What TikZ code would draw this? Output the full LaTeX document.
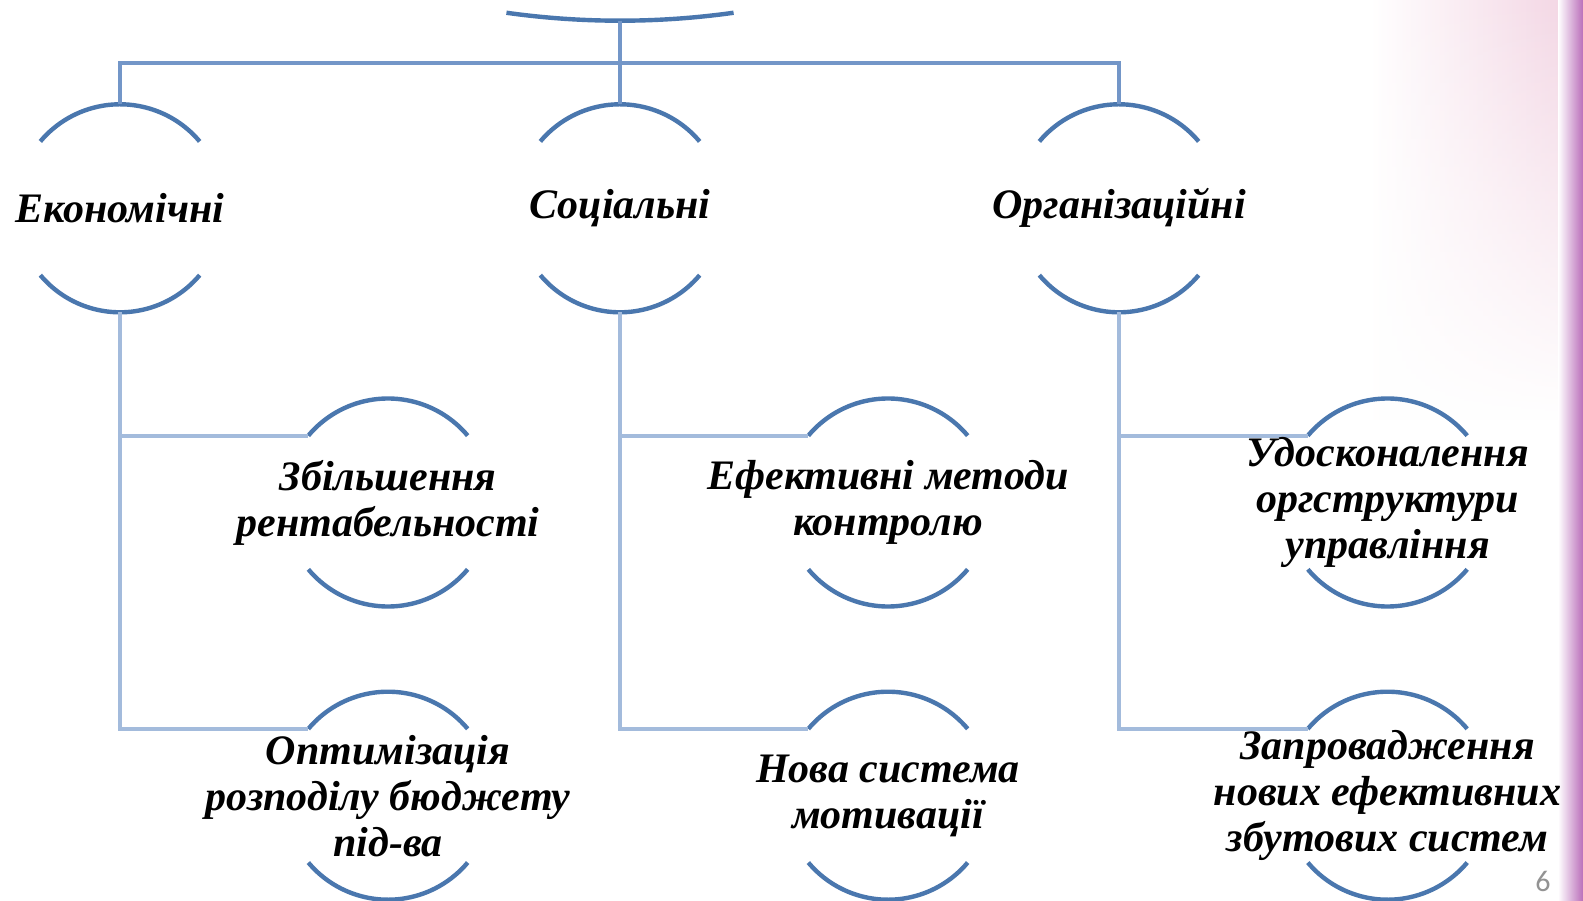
\documentclass[tikz,border=0pt]{standalone}
\usepackage{fontspec}
\setmainfont{Liberation Serif}
\newfontfamily\numfont{Carlito}
\usepackage{tikz}
\usetikzlibrary{calc, fadings}
\definecolor{arcBlue}{HTML}{4A77AE}
\definecolor{linkBlue}{HTML}{7396C8}
\definecolor{subBlue}{HTML}{A3BBDC}
\definecolor{stripPurple}{HTML}{BA6EBA}
\definecolor{washPink}{HTML}{F3D6E4}
\tikzfading[name=washfade, top color=transparent!0, bottom color=transparent!100]

\begin{document}
\begin{tikzpicture}[x=0.5pt, y=0.5pt,
    ring/.style={circle, minimum size=104pt, inner sep=0pt, outer sep=0pt},
    lbl/.style={align=center, font=\fontsize{21}{23}\selectfont\bfseries\itshape},
    arcline/.style={arcBlue, line width=2.2pt},
    link/.style={linkBlue, line width=2pt},
    sublink/.style={subBlue, line width=2pt}]
  \useasboundingbox (0,0) rectangle (1583,900);
  % background of the slide
  \fill[white] (0,0) rectangle (1583,900);
  \shade[left color=white, right color=washPink, path fading=washfade] (1370,480) rectangle (1566,900);
  \shade[left color=white, right color=stripPurple] (1558,0) rectangle (1583,900);
  \node[text=gray!85, inner sep=0pt, font=\numfont\fontsize{15}{16}\selectfont] (pagenum) at (1543,19) {6};

  % circles: first level and second level
  \coordinate (root) at (620,879.3);
  \node[ring] (eco) at (120,691.7) {};
  \node[ring] (soc) at (620,691.7) {};
  \node[ring] (org) at (1119,691.7) {};
  \node[ring] (ecoA) at (388,397.5) {};
  \node[ring] (ecoB) at (388,104.3) {};
  \node[ring] (socA) at (888,397.5) {};
  \node[ring] (socB) at (888,104.3) {};
  \node[ring] (orgA) at (1387.5,397.5) {};
  \node[ring] (orgB) at (1387.5,104.3) {};

  % arcs
  \draw[arcline] (root) arc[start angle=270, end angle=262, radius=408pt]
                 (root) arc[start angle=270, end angle=278, radius=408pt];
  \foreach \n in {eco, soc, org, ecoA, ecoB, socA, socB, orgA, orgB}
    \draw[arcline] (\n.40) arc[start angle=40, end angle=140, radius=52pt]
                   (\n.220) arc[start angle=220, end angle=320, radius=52pt];

  % connectors
  \coordinate (bar) at (0,837.3);
  \draw[link] (root) -- (soc.north);
  \draw[link] (eco.north) -- (eco.north |- bar) -- (org.north |- bar) -- (org.north);
  \draw[sublink] (eco.south) |- (ecoB.140);
  \draw[sublink] (eco.south |- ecoA.140) -- (ecoA.140);
  \draw[sublink] (soc.south) |- (socB.140);
  \draw[sublink] (soc.south |- socA.140) -- (socA.140);
  \draw[sublink] (org.south) |- (orgB.140);
  \draw[sublink] (org.south |- orgA.140) -- (orgA.140);

  % texts
  \node[lbl] (ecoT) at (eco) {Економічні};
  \node[lbl] (socT) at (soc) {Соціальні};
  \node[lbl] (orgT) at (org) {Організаційні};
  \node[lbl] (ecoAT) at (ecoA) {Збільшення\\рентабельності};
  \node[lbl] (ecoBT) at (ecoB) {Оптимізація\\розподілу бюджету\\під-ва};
  \node[lbl] (socAT) at (socA) {Ефективні методи\\контролю};
  \node[lbl] (socBT) at (socB) {Нова система\\мотивації};
  \node[lbl] (orgAT) at (orgA) {Удосконалення\\оргструктури\\управління};
  \node[lbl] (orgBT) at (orgB) {Запровадження\\нових ефективних\\збутових систем};
\end{tikzpicture}
\end{document}
